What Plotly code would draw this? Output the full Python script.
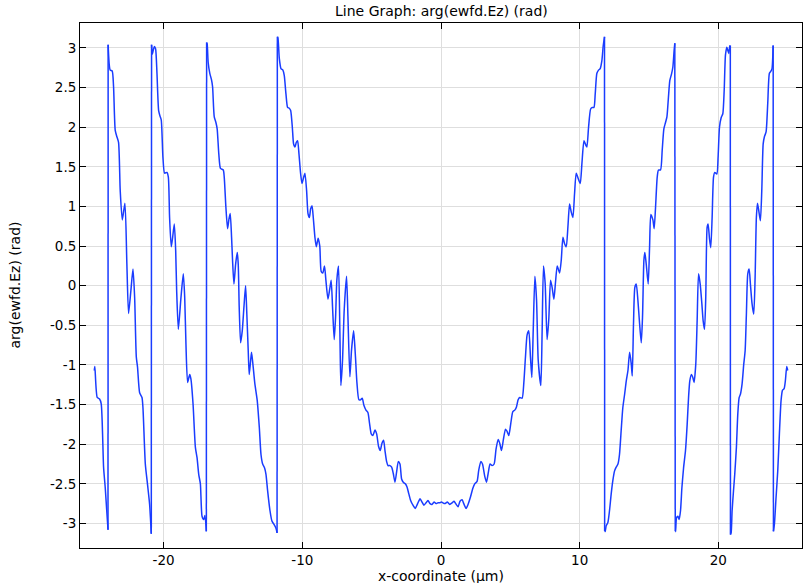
import plotly.graph_objects as go

# ---- data (x in µm, arg in rad), one list pair per phase branch ----
A_x = [-25.00, -24.96, -24.79, -24.62, -24.50, -24.33, -24.21, -24.01]
A_y = [-1.07, -1.02, -1.41, -1.43, -1.49, -2.29, -2.55, -3.08]

B_x = [-24.00, -23.85, -23.71, -23.61, -23.49, -23.37, -23.25, -23.13, -22.98, -22.79, -22.65, -22.53,
       -22.36, -22.21, -22.09, -21.97, -21.88, -21.73, -21.56, -21.49, -21.32, -21.16, -21.01, -20.89]
B_y = [3.04, 2.72, 2.71, 2.51, 1.96, 1.88, 1.81, 1.20, 0.83, 1.04, 0.27, -0.35,
       -0.06, 0.21, -0.15, -0.90, -1.03, -1.35, -1.41, -1.54, -2.25, -2.51, -2.76, -3.13]

C_x = [-20.87, -20.82, -20.75, -20.67, -20.58, -20.48, -20.36, -20.26, -20.17, -20.05, -19.93, -19.76,
       -19.66, -19.57, -19.45, -19.35, -19.23, -19.13, -19.06, -18.94, -18.75, -18.58, -18.48, -18.39,
       -18.27, -18.12, -18.03, -17.88, -17.71, -17.59, -17.47, -17.35, -17.23, -17.11, -17.02, -16.92]
C_y = [3.04, 2.92, 2.97, 3.02, 2.99, 2.68, 2.21, 2.14, 2.09, 1.62, 1.42, 1.43,
       1.37, 0.86, 0.49, 0.61, 0.78, 0.44, -0.06, -0.55, -0.15, 0.15, -0.15, -0.74,
       -1.22, -1.12, -1.18, -1.49, -2.04, -2.17, -2.38, -2.50, -2.91, -2.95, -2.90, -3.10]

D_x = [-16.90, -16.86, -16.79, -16.67, -16.55, -16.47, -16.35, -16.23, -16.14, -16.02, -15.90, -15.70,
       -15.63, -15.51, -15.39, -15.29, -15.20, -15.10, -15.03, -14.93, -14.81, -14.69, -14.62, -14.55,
       -14.45, -14.33, -14.21, -14.09, -14.00, -13.90, -13.83, -13.73, -13.66, -13.54, -13.42, -13.25,
       -13.10, -12.98, -12.86, -12.72, -12.62, -12.50, -12.33, -12.19, -12.05, -11.90, -11.82]
D_y = [3.07, 3.05, 2.82, 2.68, 2.60, 2.51, 2.13, 2.06, 1.98, 1.66, 1.48, 1.46,
       1.37, 0.99, 0.72, 0.84, 0.91, 0.61, 0.32, 0.02, 0.27, 0.42, 0.27, -0.27,
       -0.72, -0.57, -0.27, 0.00, -0.36, -0.82, -1.12, -0.95, -0.84, -1.03, -1.24, -1.45,
       -1.79, -2.13, -2.25, -2.30, -2.38, -2.59, -2.84, -2.97, -3.01, -3.06, -3.12]

E_x = [-11.80, -11.76, -11.66, -11.54, -11.40, -11.30, -11.18, -11.06, -10.94, -10.84, -10.72, -10.63,
       -10.53, -10.43, -10.34, -10.24, -10.12, -10.02, -9.90, -9.81, -9.69, -9.59, -9.49, -9.40,
       -9.30, -9.21, -9.09, -8.99, -8.86, -8.74,
       -8.64, -8.52, -8.40, -8.30, -8.15, -8.03, -7.92, -7.82, -7.70, -7.60, -7.51, -7.39,
       -7.29, -7.22, -7.10, -6.98, -6.81, -6.71, -6.57, -6.45, -6.30, -6.18, -6.06, -5.92,
       -5.80, -5.68, -5.56, -5.41, -5.27, -5.15, -5.03, -4.91, -4.76, -4.64, -4.50, -4.38,
       -4.26, -4.14, -4.04, -3.92, -3.82, -3.68, -3.56, -3.44, -3.32, -3.20, -3.08, -2.96,
       -2.84, -2.72, -2.57, -2.45, -2.33, -2.19, -2.02, -1.85, -1.71, -1.51, -1.37, -1.23,
       -1.08, -0.94, -0.79, -0.65, -0.50, -0.36, -0.21, -0.07,
       0.03, 0.27, 0.46, 0.63, 0.80, 0.94, 1.06, 1.23, 1.37, 1.52, 1.64, 1.81,
       1.95, 2.12, 2.29, 2.43, 2.60, 2.72, 2.87, 2.99, 3.16, 3.28, 3.40, 3.54,
       3.68, 3.83, 3.97, 4.12, 4.24, 4.36, 4.50, 4.65, 4.77, 4.89, 5.03, 5.18,
       5.32, 5.44, 5.56, 5.68, 5.85, 5.97, 6.09, 6.21, 6.33, 6.45, 6.55, 6.65,
       6.77, 6.89, 7.01, 7.20, 7.29, 7.39, 7.51, 7.65, 7.77, 7.90, 8.02, 8.14,
       8.26, 8.38, 8.55, 8.67,
       8.79, 8.91, 9.03, 9.15, 9.27, 9.39, 9.51, 9.63, 9.75, 9.90, 10.04, 10.16,
       10.31, 10.45, 10.52, 10.64, 10.79, 10.91, 11.03, 11.12, 11.24, 11.36, 11.48, 11.60,
       11.70, 11.79]
E_y = [3.14, 3.13, 2.87, 2.74, 2.72, 2.65, 2.42, 2.25, 2.24, 2.21, 2.00, 1.79,
       1.75, 1.81, 1.83, 1.66, 1.41, 1.29, 1.37, 1.42, 1.20, 0.91, 0.86, 0.97,
       1.01, 0.86, 0.61, 0.49, 0.60, 0.50,
       0.18, 0.16, 0.25, 0.07, -0.17, -0.05, 0.07, -0.27, -0.68, -0.39, 0.07, 0.25,
       -0.60, -1.26, -0.94, -0.31, 0.12, -0.39, -1.15, -0.81, -0.57, -0.86, -1.23, -1.44,
       -1.44, -1.42, -1.51, -1.57, -1.60, -1.74, -1.87, -1.89, -1.82, -1.87, -2.03, -2.08,
       -1.99, -1.95, -2.08, -2.22, -2.27, -2.27, -2.29, -2.37, -2.48, -2.35, -2.22, -2.25,
       -2.44, -2.48, -2.50, -2.54, -2.62, -2.71, -2.77, -2.81, -2.76, -2.69, -2.73, -2.77,
       -2.74, -2.71, -2.75, -2.76, -2.73, -2.75, -2.74, -2.74,
       -2.73, -2.75, -2.73, -2.76, -2.74, -2.72, -2.75, -2.79, -2.72, -2.70, -2.75, -2.81,
       -2.76, -2.67, -2.56, -2.50, -2.47, -2.33, -2.22, -2.25, -2.41, -2.48, -2.37, -2.25,
       -2.27, -2.25, -2.06, -1.94, -1.99, -2.08, -1.94, -1.81, -1.84, -1.89, -1.74, -1.59,
       -1.57, -1.53, -1.44, -1.41, -1.42, -1.23, -0.90, -0.62, -0.57, -0.90, -1.16, -0.56,
       0.12, -0.18, -0.94, -1.26, -0.60, 0.25, 0.03, -0.68, -0.43, 0.07, -0.03, -0.17,
       0.05, 0.25, 0.16, 0.32,
       0.61, 0.53, 0.49, 0.74, 1.03, 0.93, 0.86, 1.16, 1.42, 1.35, 1.29, 1.54,
       1.83, 1.77, 1.75, 2.00, 2.23, 2.25, 2.25, 2.42, 2.68, 2.72, 2.74, 2.84,
       3.03, 3.14]

F_x = [11.80, 11.84, 11.91, 12.03, 12.15, 12.27, 12.39, 12.51, 12.63, 12.76, 12.87, 12.99,
       13.11, 13.24, 13.36, 13.48, 13.60, 13.72, 13.79, 13.88, 13.98, 14.08, 14.20, 14.32,
       14.44, 14.53, 14.63, 14.70, 14.80, 14.94, 15.04, 15.13, 15.28, 15.37, 15.47, 15.59,
       15.68, 15.83, 15.95, 16.07, 16.19, 16.29, 16.40, 16.50, 16.62, 16.72, 16.81, 16.86]
F_y = [-3.10, -3.10, -3.03, -2.99, -2.84, -2.63, -2.46, -2.34, -2.29, -2.25, -2.13, -1.83,
       -1.54, -1.37, -1.20, -1.07, -0.84, -0.99, -1.14, -0.48, -0.02, 0.02, -0.19, -0.48,
       -0.72, -0.40, 0.32, 0.42, 0.27, 0.02, 0.49, 0.90, 0.83, 0.72, 0.99, 1.37,
       1.46, 1.46, 1.71, 1.98, 2.06, 2.13, 2.38, 2.59, 2.67, 2.76, 2.97, 3.06]

G_x = [16.89, 16.91, 16.98, 17.08, 17.17, 17.27, 17.37, 17.49, 17.63, 17.75, 17.85, 17.94,
       18.06, 18.16, 18.25, 18.37, 18.47, 18.57, 18.69, 18.81, 18.90, 19.00, 19.09, 19.19,
       19.26, 19.36, 19.45, 19.55, 19.65, 19.74, 19.89, 19.98, 20.08, 20.20, 20.32, 20.42,
       20.51, 20.61, 20.68, 20.75, 20.82, 20.86]
G_y = [-3.10, -3.10, -2.93, -2.91, -2.95, -2.84, -2.55, -2.30, -2.08, -1.75, -1.41, -1.20,
       -1.12, -1.16, -1.22, -0.99, -0.44, 0.15, 0.02, -0.23, -0.44, -0.55, -0.15, 0.74,
       0.78, 0.59, 0.48, 0.86, 1.37, 1.43, 1.41, 1.62, 2.00, 2.12, 2.17, 2.47,
       2.91, 3.01, 2.97, 2.93, 3.02, 3.03]

H_x = [20.87, 20.92, 20.99, 21.09, 21.18, 21.30, 21.40, 21.50, 21.59, 21.71, 21.83, 21.93,
       22.02, 22.12, 22.22, 22.31, 22.43, 22.55, 22.65, 22.74, 22.82, 22.91, 23.03, 23.13,
       23.23, 23.32, 23.44, 23.56, 23.68, 23.80, 23.87, 23.95]
H_y = [-3.14, -3.12, -2.84, -2.59, -2.38, -2.04, -1.62, -1.41, -1.37, -1.24, -0.99, -0.82,
       -0.36, 0.15, 0.21, 0.02, -0.23, -0.36, 0.11, 0.86, 1.04, 0.95, 0.82, 1.20,
       1.79, 1.88, 1.94, 2.30, 2.68, 2.71, 2.74, 3.03]

I_x = [23.97, 24.04, 24.16, 24.28, 24.40, 24.52, 24.62, 24.74, 24.83, 24.93, 25.00]
I_y = [-3.10, -3.01, -2.67, -2.34, -1.87, -1.45, -1.32, -1.30, -1.20, -1.02, -1.07]

x_ticks = [-20, -10, 0, 10, 20]
x_tick_text = ["-20", "-10", "0", "10", "20"]
y_ticks = [-3, -2.5, -2, -1.5, -1, -0.5, 0, 0.5, 1, 1.5, 2, 2.5, 3]
y_tick_text = ["-3", "-2.5", "-2", "-1.5", "-1", "-0.5", "0", "0.5", "1", "1.5", "2", "2.5", "3"]

title_text = "Line Graph: arg(ewfd.Ez) (rad)"
x_title = "x-coordinate (µm)"
y_title = "arg(ewfd.Ez) (rad)"

branches_x = [A_x, B_x, C_x, D_x, E_x, F_x, G_x, H_x, I_x]
branches_y = [A_y, B_y, C_y, D_y, E_y, F_y, G_y, H_y, I_y]

FONT = "DejaVu Sans, Verdana, sans-serif"
LINE_COLOR = "#1a3cff"
TEXT_SIZE = 14
TICK_SIZE = 13.5

fig = go.Figure()
# smooth curve for each branch
for bx, by in zip(branches_x, branches_y):
    assert len(bx) == len(by)
    fig.add_trace(go.Scatter(x=bx, y=by, mode="lines",
                             line=dict(color=LINE_COLOR, width=1.5, shape="spline", smoothing=0.6),
                             showlegend=False, hoverinfo="skip"))
# the vertical phase-wrap jumps joining consecutive branches
jx, jy = [], []
for k in range(len(branches_x) - 1):
    jx += [branches_x[k][-1], branches_x[k + 1][0], None]
    jy += [branches_y[k][-1], branches_y[k + 1][0], None]
fig.add_trace(go.Scatter(x=jx, y=jy, mode="lines", connectgaps=False,
                         line=dict(color=LINE_COLOR, width=1.5),
                         showlegend=False, hoverinfo="skip"))

axis_common = dict(showline=True, linecolor="#000000", linewidth=1, mirror="ticks",
                   ticks="inside", ticklen=6, tickcolor="#000000", tickwidth=1,
                   showgrid=True, gridcolor="#dedede", gridwidth=1, zeroline=False,
                   tickfont=dict(family=FONT, size=TICK_SIZE, color="#000000"))

fig.update_layout(
    width=803, height=583,
    margin=dict(l=80, r=1, t=23, b=35, autoexpand=False),
    paper_bgcolor="white", plot_bgcolor="white",
    font=dict(family=FONT, size=TEXT_SIZE, color="#000000"),
    xaxis=dict(range=[-26.03, 26.03], tickmode="array", tickvals=x_ticks, ticktext=x_tick_text,
               **axis_common),
    yaxis=dict(range=[-3.31, 3.315], tickmode="array", tickvals=y_ticks, ticktext=y_tick_text,
               **axis_common),
    annotations=[
        dict(text=title_text, xref="paper", yref="paper", x=0.5, y=1, yshift=12,
             showarrow=False, xanchor="center", yanchor="middle",
             font=dict(family=FONT, size=TEXT_SIZE, color="#000000")),
        dict(text=x_title, xref="paper", yref="paper", x=0.5, y=0, yshift=-28,
             showarrow=False, xanchor="center", yanchor="middle",
             font=dict(family=FONT, size=TEXT_SIZE, color="#000000")),
        dict(text=y_title, xref="paper", yref="paper", x=0, y=0.5, xshift=-66,
             textangle=-90, showarrow=False, xanchor="center", yanchor="middle",
             font=dict(family=FONT, size=TEXT_SIZE, color="#000000")),
    ],
)

fig.write_html("out.html", config={"displayModeBar": False},
               post_script="document.body.style.margin='0';document.body.style.padding='0';")
